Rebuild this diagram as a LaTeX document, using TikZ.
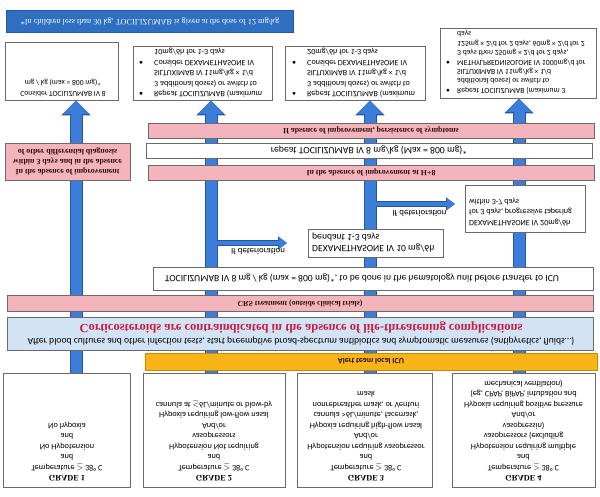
\documentclass[tikz,border=0pt]{standalone}
\usepackage{fontspec}
\setmainfont{Carlito}
\newfontfamily\cambr{Liberation Serif}
\usetikzlibrary{arrows.meta}
\pgfdeclarelayer{bg}
\pgfsetlayers{bg,main}
\definecolor{boxgrey}{HTML}{6A6A6A}
\definecolor{pinkfill}{HTML}{F3B4BC}
\definecolor{lblue}{HTML}{D2E3F5}
\definecolor{orangef}{HTML}{F9B418}
\definecolor{oranged}{HTML}{C98A00}
\definecolor{arrowblue}{HTML}{3C7DD9}
\definecolor{arrowdark}{HTML}{24579F}
\definecolor{bannerblue}{HTML}{2E6FC2}
\definecolor{redtxt}{HTML}{C81E3C}
\definecolor{darktxt}{HTML}{2B0A0A}
\begin{document}
\begin{tikzpicture}[x=1pt,y=1pt,yscale=-1,
  every node/.style={transform shape},
  wbox/.style={draw=boxgrey, line width=0.9pt, fill=white, inner sep=0pt},
  pbar/.style={draw=boxgrey, line width=0.9pt, fill=pinkfill, inner sep=0pt, text=darktxt,
    font=\cambr\bfseries\fontsize{7.9}{9}\selectfont},
  txt/.style={inner sep=0pt, align=center, font=\fontsize{7.3}{10.5}\selectfont},
  gtxt/.style={inner sep=0pt, align=center, anchor=north, font=\fontsize{8.3}{10.5}\selectfont},
  bigarrow/.style={line width=11pt, draw=arrowblue, -{Triangle[width=25pt,length=13.5pt,fill=arrowblue]},
    preaction={draw=arrowdark, line width=13pt, -{Triangle[width=28.5pt,length=15pt,fill=arrowdark]}}},
  midarrow/.style={line width=4.5pt, draw=arrowblue, -{Triangle[width=11pt,length=8pt,fill=arrowblue]},
    preaction={draw=arrowdark, line width=5.5pt, -{Triangle[width=12.5pt,length=9pt,fill=arrowdark]}}}
]
\useasboundingbox (0,0) rectangle (600,496);

% top banner
\node[draw=arrowdark, line width=0.8pt, fill=bannerblue, inner sep=0pt, minimum width=287pt, minimum height=22pt,
  text=white, font=\cambr\fontsize{8.2}{9}\selectfont] (banner) at (150,21)
  {*In children less than 30 kg, TOCILIZUMAB is given at the dose of 12 mg/kg};

% top boxes
\node[wbox, minimum width=113pt, minimum height=58pt] (b1) at (61.5,71) {};
\node[txt, font=\fontsize{7.6}{11}\selectfont] (t1) at (63,88)
  {Consider TOCILIZUMAB IV 8\\mg / kg (max = 800 mg)*};

\node[wbox, minimum width=139pt, minimum height=54pt] (b2) at (202.5,73) {};
\node[txt, anchor=west, align=left] (t2) at (139,73)
  {\fontsize{8.1}{10.5}\selectfont\begin{tabular}{@{}p{15pt}@{}l@{}}
   \textbullet & Repeat TOCILIZUMAB (maximum\\
   & 3 additional doses) or switch to\\
   & SILTUXIMAB IV 11mg/kg × 1/d\\
   \textbullet & Consider DEXAMETHASONE IV\\
   & 10mg/6h for 1-3 days\end{tabular}};

\node[wbox, minimum width=140pt, minimum height=54pt] (b3) at (355,73) {};
\node[txt, anchor=west, align=left] (t3) at (292,73)
  {\fontsize{8.1}{10.5}\selectfont\begin{tabular}{@{}p{15pt}@{}l@{}}
   \textbullet & Repeat TOCILIZUMAB (maximum\\
   & 3 additional doses) or switch to\\
   & SILTUXIMAB IV 11mg/kg × 1/d\\
   \textbullet & Consider DEXAMETHASONE IV\\
   & 20mg/6h for 1-3 days\end{tabular}};

\node[wbox, minimum width=156pt, minimum height=70pt] (b4) at (518,63) {};
\node[txt, anchor=west, align=left] (t4) at (446,62)
  {\fontsize{7.7}{9.4}\selectfont\begin{tabular}{@{}p{11pt}@{}l@{}}
   \textbullet & Repeat TOCILIZUMAB (maximum 3\\
   & additional doses) or switch to\\
   & SILTUXIMAB IV 11mg/kg × 1/d\\
   \textbullet & METHYLPREDNISOLONE IV 1000mg/d for\\
   & 3 days then 250mg × 2/d for 2 days,\\
   & 125mg × 2/d for 2 days, 60mg × 2/d for 2\\
   & days\end{tabular}};

% pink / white bars
\node[pbar, minimum width=446pt, minimum height=15pt] (pa) at (371,130.5)
  {If absence of improvement, persistence of symptoms};
\node[wbox, minimum width=446pt, minimum height=15pt, font=\fontsize{9.7}{10}\selectfont] (wa) at (369,150.5)
  {repeat TOCILIZUMAB IV 8 mg/kg (Max = 800 mg)*};
\node[pbar, minimum width=446pt, minimum height=15pt] (pb) at (371,172.5)
  {In the absence of improvement at H+8};
\node[pbar, minimum width=125pt, minimum height=37pt, align=center,
  font=\cambr\bfseries\fontsize{7.9}{10}\selectfont] (lp) at (67.5,161.5)
  {In the absence of improvement\\within 3 days and in the absence\\of other differential diagnosis};

% dexamethasone boxes
\node[wbox, minimum width=135pt, minimum height=28pt] (d10) at (375.5,243) {};
\node[txt, anchor=west, align=left, font=\fontsize{9.6}{11}\selectfont] (d10t) at (312,242.5)
  {DEXAMETHASONE IV 10 mg/6h\\pendant 1-3 days};
\node[wbox, minimum width=120pt, minimum height=47pt] (d20) at (525,208.5) {};
\node[txt, anchor=west, align=left, font=\fontsize{8.1}{10.5}\selectfont] (d20t) at (469,212)
  {DEXAMETHASONE IV 20mg/6h\\for 3 days, progressive tapering\\within 3-7 days};

\node[txt, font=\fontsize{8.8}{9}\selectfont] (lab1) at (258,252) {If deterioration};
\node[txt, font=\fontsize{8.8}{9}\selectfont] (lab2) at (419.5,214) {If deterioration};

% tocilizumab bar
\node[wbox, minimum width=440pt, minimum height=23pt] (toc) at (373,278.5) {};
\node[txt, font=\fontsize{9.6}{10}\selectfont] (toct) at (362,278.5)
  {TOCILIZUMAB IV 8 mg / kg (max = 800 mg)*, to be done in the hematology unit before transfer to ICU};
\node[pbar, minimum width=586pt, minimum height=16pt, font=\cambr\bfseries\fontsize{7.7}{8}\selectfont] (crs) at (300,303)
  {CRS treatment (outside clinical trials)};

% light blue box
\node[draw=boxgrey, line width=0.9pt, fill=lblue, inner sep=0pt, minimum width=586pt, minimum height=33pt] (lb) at (300,333.5) {};
\node[txt, text=redtxt, font=\cambr\bfseries\fontsize{12.5}{13}\selectfont] (lbr) at (301,327.5)
  {Corticosteroids are contraindicated in the absence of life-threatening complications};
\node[txt, font=\fontsize{9.6}{10}\selectfont] (lbt) at (301,341.5)
  {After blood cultures and other infection tests, start preemptive broad-spectrum antibiotics and symptomatic measures (antipyretics, fluids…)};

% orange bar
\node[draw=oranged, line width=0.9pt, fill=orangef, inner sep=0pt, minimum width=452pt, minimum height=17pt,
  text=darktxt, font=\bfseries\fontsize{8}{8}\selectfont] (alert) at (371,361.5) {Alert team local ICU};

% grade boxes
\node[wbox, minimum width=127pt, minimum height=114pt] (g1) at (66.5,430) {};
\node[wbox, minimum width=142pt, minimum height=114pt] (g2) at (214,430) {};
\node[wbox, minimum width=135pt, minimum height=114pt] (g3) at (364.5,430) {};
\node[wbox, minimum width=143pt, minimum height=114pt] (g4) at (523.5,430) {};

\node[gtxt] (g1t) at (67,481.5)
  {{\cambr\bfseries GRADE 1}\\Temperature $\geq$ 38° C\\and\\No Hypotension\\and\\No hypoxia};
\node[gtxt] (g2t) at (214,481.5)
  {{\cambr\bfseries GRADE 2}\\Temperature $\geq$ 38° C\\and\\Hypotension Not requiring\\vasopressors\\And/or\\Hypoxia requiring low-flow nasal\\cannula at $\leq$6L/minute or blow-by};
\node[gtxt] (g3t) at (366,481.5)
  {{\cambr\bfseries GRADE 3}\\Temperature $\geq$ 38° C\\and\\Hypotension requiring vasopressor\\And/or\\Hypoxia requiring high-flow nasal\\cannula >6L/minute, facemask,\\nonrebreather mask, or Venturi\\mask};
\node[gtxt] (g4t) at (523.5,481.5)
  {{\cambr\bfseries GRADE 4}\\Temperature $\geq$ 38° C\\and\\Hypotension requiring multiple\\vasopressors (excluding\\vasopressin)\\And/or\\Hypoxia requiring positive pressure\\(eg, CPAP, BiPAP, intubation and\\mechanical ventilation)};

% arrows (behind)
\coordinate (ax1) at (76,0);
\coordinate (ax2) at (211,0);
\coordinate (ax3) at (370,0);
\coordinate (ax4) at (519,0);
\coordinate (d1s) at (211,243);
\coordinate (d1e) at (287,243);
\coordinate (d2s) at (370,204);
\coordinate (d2e) at (455,204);
\begin{pgfonlayer}{bg}
\draw[bigarrow] (g1.south -| ax1) -- (b1.north -| ax1);
\draw[bigarrow] (g2.south -| ax2) -- (b2.north -| ax2);
\draw[bigarrow] (g3.south -| ax3) -- (b3.north -| ax3);
\draw[bigarrow] (g4.south -| ax4) -- (b4.north -| ax4);
\draw[midarrow] (d1s) -- (d1e);
\draw[midarrow] (d2s) -- (d2e);
\fill[arrowblue] (205.5,236) rectangle (216.5,250);
\fill[arrowblue] (364.5,197) rectangle (375.5,211);
\end{pgfonlayer}
\end{tikzpicture}
\end{document}
